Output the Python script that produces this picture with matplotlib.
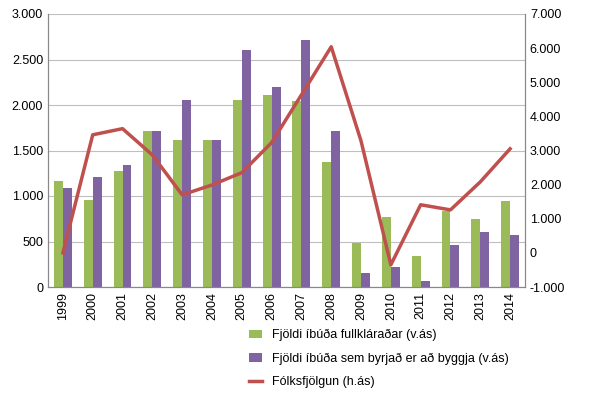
import matplotlib
matplotlib.use("Agg")
import matplotlib.pyplot as plt
import numpy as np
from matplotlib.ticker import FuncFormatter

years = [str(y) for y in range(1999, 2015)]
fullklarad = [1170, 960, 1280, 1710, 1620, 1620, 2050, 2110, 2040, 1370, 480, 770, 340, 830, 750, 950]
byrjad = [1090, 1210, 1340, 1710, 2060, 1610, 2600, 2200, 2710, 1710, 150, 220, 70, 460, 600, 570]
folksfjolgun = [0, 3460, 3640, 2870, 1700, 1990, 2350, 3230, 4630, 6040, 3280, -350, 1410, 1260, 2080, 3050]

plt.rcParams['font.family'] = ['Liberation Sans', 'DejaVu Sans']
fig = plt.figure(figsize=(5.98, 4.05), dpi=100)
ax = fig.add_axes([48/598, 1-287/405, (525-48)/598, (287-14)/405])
x = np.arange(len(years))
w = 0.3
ax.bar(x - w/2, fullklarad, w, color='#9BBB59', label='Fjöldi íbúða fullkláraðar (v.ás)', zorder=2)
ax.bar(x + w/2, byrjad, w, color='#8064A2', label='Fjöldi íbúða sem byrjað er að byggja (v.ás)', zorder=2)
ax.set_ylim(0, 3000)
ax.set_yticks(range(0, 3001, 500))
fmt = FuncFormatter(lambda v, p: f"{int(v):,}".replace(",", "."))
ax.yaxis.set_major_formatter(fmt)
ax.grid(axis='y', color='#BFBFBF', lw=0.8, zorder=0)
ax.set_xlim(-0.5, len(years) - 0.5)
ax.set_xticks(x)
ax.set_xticklabels(years, rotation=90)
ax.tick_params(labelsize=9, length=0)
ax2 = ax.twinx()
ax2.plot(x, folksfjolgun, color='#C0504D', lw=2.5, label='Fólksfjölgun (h.ás)')
ax2.set_ylim(-1000, 7000)
ax2.set_yticks(range(-1000, 7001, 1000))
ax2.yaxis.set_major_formatter(fmt)
ax2.tick_params(labelsize=9, length=0)
for a in (ax, ax2):
    for s in a.spines.values():
        s.set_color('#888888')
    a.spines['top'].set_visible(False)
h1, l1 = ax.get_legend_handles_labels()
h2, l2 = ax2.get_legend_handles_labels()
fig.legend(h1 + h2, l1 + l2, loc='upper left', bbox_to_anchor=(238/598, 1-318/405),
           frameon=False, fontsize=9, labelspacing=0.9, handlelength=1.0)
fig.savefig('out.png', dpi=100)
